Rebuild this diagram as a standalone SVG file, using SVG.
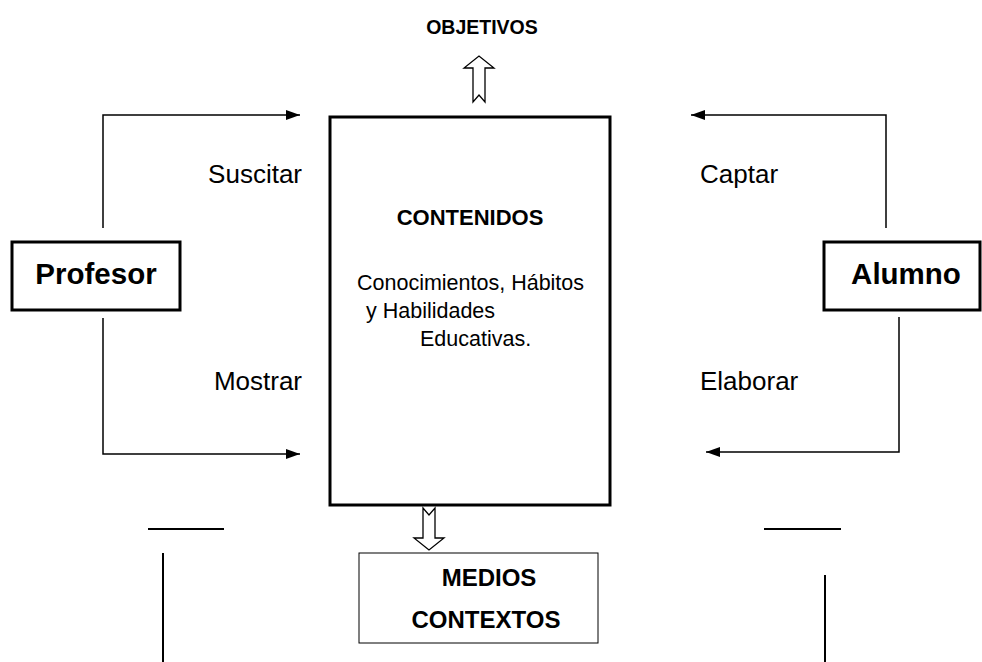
<svg xmlns="http://www.w3.org/2000/svg" width="982" height="662" viewBox="0 0 982 662">
<style>
text{font-family:"Liberation Sans",Arial,sans-serif;fill:#000}
.b{font-weight:bold}
.lab{font-size:26px}
.l{stroke:#000;stroke-width:1.5;fill:none}
.s{stroke:#000;stroke-width:2;fill:none}
.box{fill:#fff;stroke:#000;stroke-width:3}
.ha{fill:#fff;stroke:#000;stroke-width:1.3}
</style>
<defs>
<marker id="ah" markerWidth="14" markerHeight="10" refX="14" refY="5" orient="auto" markerUnits="userSpaceOnUse">
<path d="M0,0 L14,5 L0,10 Z" fill="#000"/>
</marker>
</defs>
<rect width="982" height="662" fill="#fff"/>
<g id="objetivos">
<text class="b" x="482" y="34" font-size="19.5" text-anchor="middle">OBJETIVOS</text>
</g>
<g id="contenidos">
<rect class="box" x="330" y="117" width="280" height="388"/>
<text class="b" x="470" y="225" font-size="22" text-anchor="middle">CONTENIDOS</text>
<text x="357" y="290" font-size="21.5">Conocimientos, Hábitos</text>
<text x="366" y="318" font-size="21.5">y Habilidades</text>
<text x="420" y="346" font-size="21.5">Educativas.</text>
</g>
<g id="profesor">
<rect class="box" x="12" y="242" width="168" height="68"/>
<text class="b" x="96" y="284" font-size="29.5" text-anchor="middle">Profesor</text>
</g>
<g id="alumno">
<rect class="box" x="824" y="242" width="156" height="68"/>
<text class="b" x="906" y="284" font-size="29.5" text-anchor="middle">Alumno</text>
</g>
<g id="medios">
<rect x="359" y="553" width="239" height="90" fill="#fff" stroke="#000" stroke-width="1"/>
<text class="b" x="489" y="586" font-size="24" text-anchor="middle">MEDIOS</text>
<text class="b" x="486" y="628" font-size="24" text-anchor="middle">CONTEXTOS</text>
</g>
<g id="connectors">
<path class="ha" d="M473,102 L473,68 L464,68 L479,56 L494,68 L485,68 L485,102 L479,95 Z"/>
<path class="ha" d="M423,508 L429,515 L435,508 L435,538 L444,538 L429,550 L414,538 L423,538 Z"/>
<polyline class="l" points="103,228 103,115 300,115" marker-end="url(#ah)"/>
<polyline class="l" points="103,318 103,454 300,454" marker-end="url(#ah)"/>
<polyline class="l" points="886,228 886,115 691,115" marker-end="url(#ah)"/>
<polyline class="l" points="899,317 899,452 706,452" marker-end="url(#ah)"/>
<line class="s" x1="148" y1="529" x2="224" y2="529"/>
<line class="s" x1="163" y1="553" x2="163" y2="662"/>
<line class="s" x1="764" y1="529" x2="841" y2="529"/>
<line class="s" x1="825" y1="575" x2="825" y2="662"/>
</g>
<g id="labels">
<text class="lab" x="302" y="183" text-anchor="end">Suscitar</text>
<text class="lab" x="700" y="183">Captar</text>
<text class="lab" x="302" y="390" text-anchor="end">Mostrar</text>
<text class="lab" x="700" y="390">Elaborar</text>
</g>
</svg>
